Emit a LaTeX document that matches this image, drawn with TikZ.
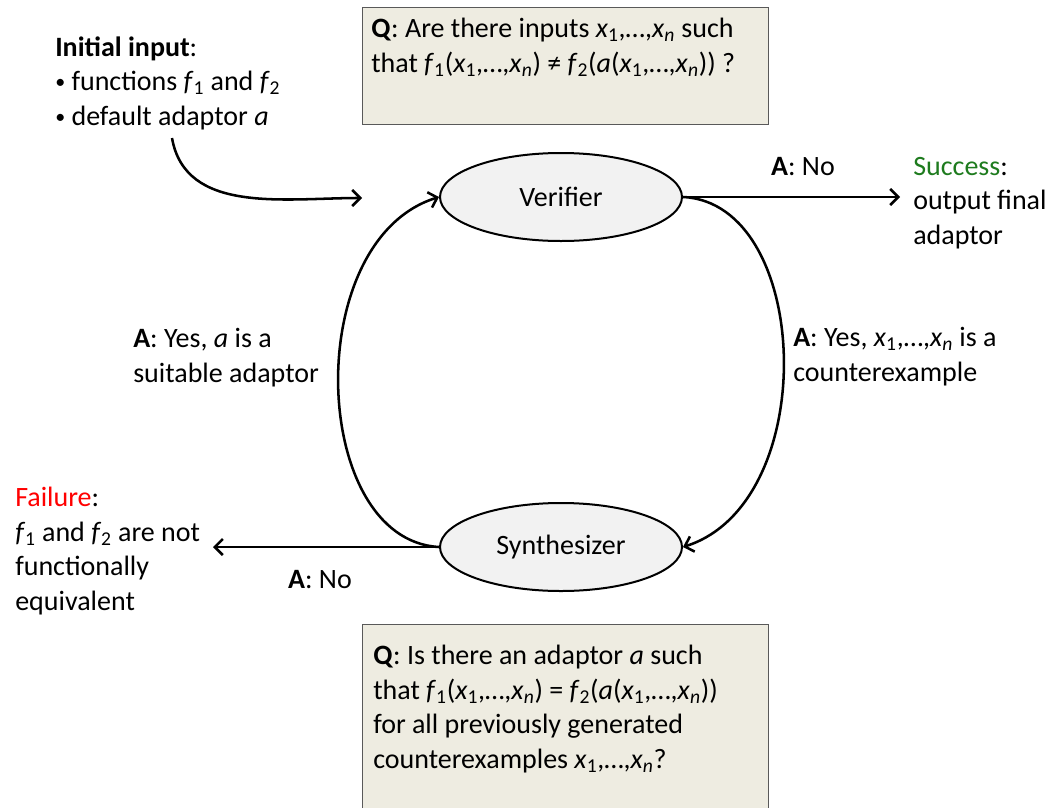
\documentclass[tikz,border=0pt]{standalone}
\usepackage{fontspec}
\setmainfont{Carlito}
\usetikzlibrary{arrows.meta,shapes.geometric,positioning}
\definecolor{QBoxFill}{HTML}{EEECE1}
\definecolor{QBoxDraw}{HTML}{595959}
\definecolor{LoopFill}{HTML}{F2F2F2}
\definecolor{SuccessGreen}{HTML}{1E7B1E}
\definecolor{FailureRed}{HTML}{FF0000}
\newcommand{\xlist}{\textit{x}\textsubscript{1},…,\textit{x}\textsubscript{\textit{n}}}
\newcommand{\fone}{\textit{f}\textsubscript{1}}
\newcommand{\ftwo}{\textit{f}\textsubscript{2}}
\newcommand{\smallbullet}{{\fontsize{15}{15}\selectfont\raisebox{1.5pt}{•}}}

\begin{document}
\begin{tikzpicture}[x=0.75pt,y=-0.75pt,
	every node/.style={font=\fontsize{21}{25.8}\selectfont},
	txt/.style={align=left,anchor=base west,inner sep=0pt},
	qbox/.style={draw=QBoxDraw,fill=QBoxFill,line width=1.1pt,anchor=north west,inner sep=0pt,minimum width=304.5pt},
	loopnode/.style={ellipse,draw,fill=LoopFill,line width=1.5pt,minimum width=181.5pt,minimum height=66pt,inner sep=0pt},
	arr/.style={line width=1.9pt,-{Straight Barb[length=6pt,width=12pt]}}]
	\useasboundingbox (0,0) rectangle (1053,807);

	% question boxes (text nodes are placed at the baseline of their last line)
	\node[qbox,minimum height=87.75pt] (qtop) at (362,7) {};
	\node[qbox,minimum height=160pt] (qbot) at (362,624) {};
	\node[txt] (qtoptext) at (371,72) {\textbf{Q}: Are there inputs \xlist{} such\\
		that \fone(\xlist) ≠ \ftwo(\textit{a}(\xlist)) ?};
	\node[txt] (qbottext) at (373,768) {\textbf{Q}: Is there an adaptor \textit{a} such\\
		that \fone(\xlist) = \ftwo(\textit{a}(\xlist))\\
		for all previously generated\\
		counterexamples \xlist?};

	% loop
	\node[loopnode] (verif) at (561,197) {Verifier};
	\node[loopnode] (synth) at (561,547) {Synthesizer};

	\node[txt] (init) at (55,125) {\textbf{Initial input}:\\
		\smallbullet{} functions \fone{} and \ftwo\\
		\smallbullet{} default adaptor \textit{a}};
	\coordinate (initstart) at (172,138);
	\coordinate (initend) at (362,198);
	\draw[arr] (initstart) to[out=-80,in=180] (initend);

	\draw[arr] (synth.west) .. controls (310,540) and (300,240) .. (verif.west);
	\draw[arr] (verif.east) .. controls (812,203) and (822,503) .. (synth.east);
	\node[txt] (yesleft) at (133,382) {\textbf{A}: Yes, \textit{a} is a\\suitable adaptor};
	\node[txt] (yesright) at (793,381) {\textbf{A}: Yes, \xlist{} is a\\counterexample};

	% exits
	\node[txt] (success) at (913,244) {\textcolor{SuccessGreen}{Success}:\\output final\\adaptor};
	\coordinate (succend) at (900,197);
	\draw[arr] (verif.east) -- (succend);
	\node[anchor=base] (noright) at (803,175) {\textbf{A}: No};

	\node[txt] (failure) at (15,610) {\textcolor{FailureRed}{Failure}:\\
		\fone{} and \ftwo{} are not\\functionally\\equivalent};
	\coordinate (failend) at (213,547);
	\draw[arr] (synth.west) -- (failend);
	\node[anchor=base] (noleft) at (320,588) {\textbf{A}: No};
\end{tikzpicture}
\end{document}
